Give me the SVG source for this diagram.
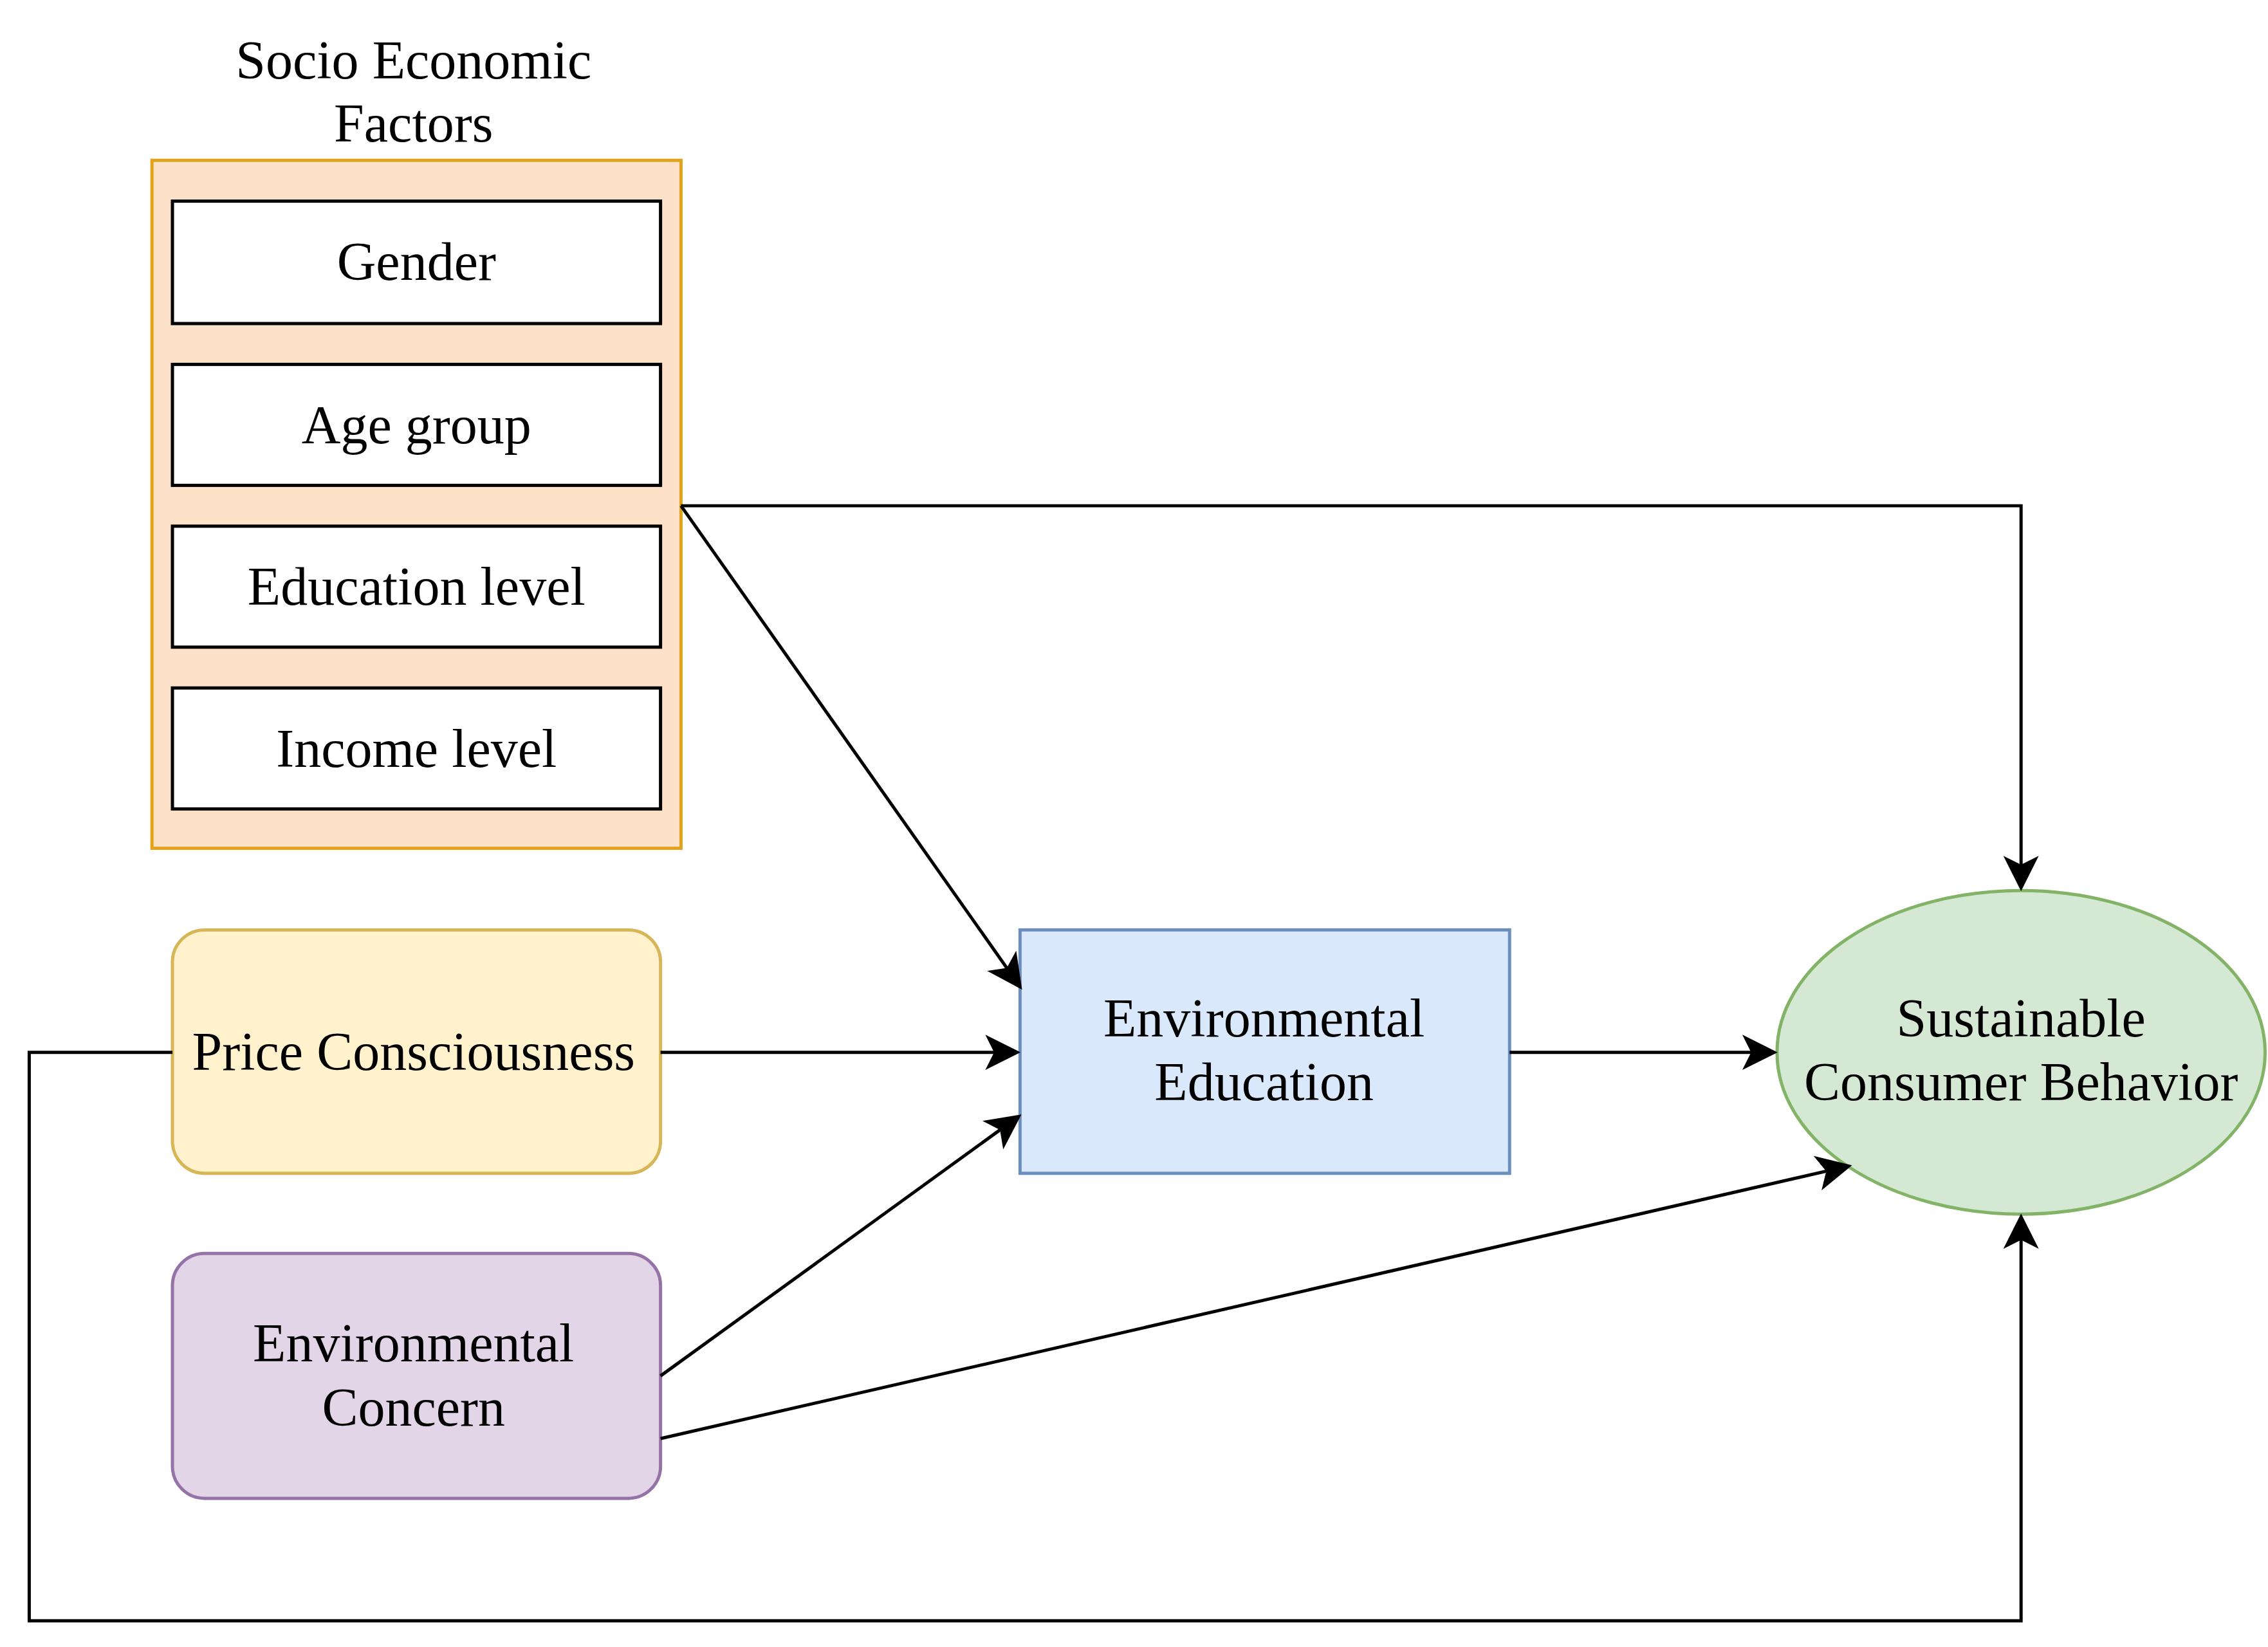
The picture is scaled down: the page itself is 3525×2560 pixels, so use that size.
<svg xmlns="http://www.w3.org/2000/svg" width="3525" height="2560" viewBox="0 0 3525 2560">
<defs>
<style>
text{font-family:"Liberation Serif","Times New Roman",serif;font-size:37px;fill:#000;text-anchor:middle}
.c{fill:none;stroke:#000;stroke-width:2.2}
.w{fill:#fff;stroke:#000;stroke-width:2.2}
</style>
<marker id="a" viewBox="0 0 10 10" refX="9" refY="5" markerWidth="11" markerHeight="11" orient="auto" markerUnits="strokeWidth"><path d="M0,0 L10,5 L0,10 L2.5,5 Z" fill="#000"/></marker>
</defs>
<rect width="3525" height="2560" fill="#fff"/>
<g transform="scale(2.2713,2.2655)">
<g id="socio">
<text x="283" y="54">Socio Economic</text>
<text x="283" y="97">Factors</text>
<rect x="104" y="110" width="362" height="472" fill="#fde2c9" stroke="#e3a21a" stroke-width="2.2"/>
</g>
<g id="gender"><rect class="w" x="118" y="138" width="334" height="84"/><text x="285" y="192">Gender</text></g>
<g id="age"><rect class="w" x="118" y="250" width="334" height="83"/><text x="285" y="304">Age group</text></g>
<g id="edu"><rect class="w" x="118" y="361" width="334" height="83"/><text x="285" y="415">Education level</text></g>
<g id="income"><rect class="w" x="118" y="472" width="334" height="83"/><text x="285" y="526">Income level</text></g>
<g id="price"><rect x="118" y="638" width="334" height="167" rx="22" fill="#fff2cc" stroke="#d6b656" stroke-width="2.2"/><text x="283" y="734">Price Consciousness</text></g>
<g id="concern"><rect x="118" y="860" width="334" height="168" rx="22" fill="#e1d5e7" stroke="#9673a6" stroke-width="2.2"/><text x="283" y="934">Environmental</text><text x="283" y="978">Concern</text></g>
<g id="envedu"><rect x="698" y="638" width="335" height="167" fill="#dae8fc" stroke="#6c8ebf" stroke-width="2.2"/><text x="865" y="711">Environmental</text><text x="865" y="755">Education</text></g>
<g id="scb"><ellipse cx="1383" cy="722" rx="167" ry="111" fill="#d5e8d4" stroke="#82b366" stroke-width="2.2"/><text x="1383" y="711">Sustainable</text><text x="1383" y="755">Consumer Behavior</text></g>
<g id="connectors">
<path class="c" d="M466,347 H1383 V609" marker-end="url(#a)"/>
<path class="c" d="M466,347 L698,677" marker-end="url(#a)"/>
<path class="c" d="M452,722 H696" marker-end="url(#a)"/>
<path class="c" d="M118,722 H20 V1112 H1383 V835" marker-end="url(#a)"/>
<path class="c" d="M452,944 L697,766" marker-end="url(#a)"/>
<path class="c" d="M452,987 L1265,800" marker-end="url(#a)"/>
<path class="c" d="M1033,722 H1214" marker-end="url(#a)"/>
</g>
</g>
</svg>
